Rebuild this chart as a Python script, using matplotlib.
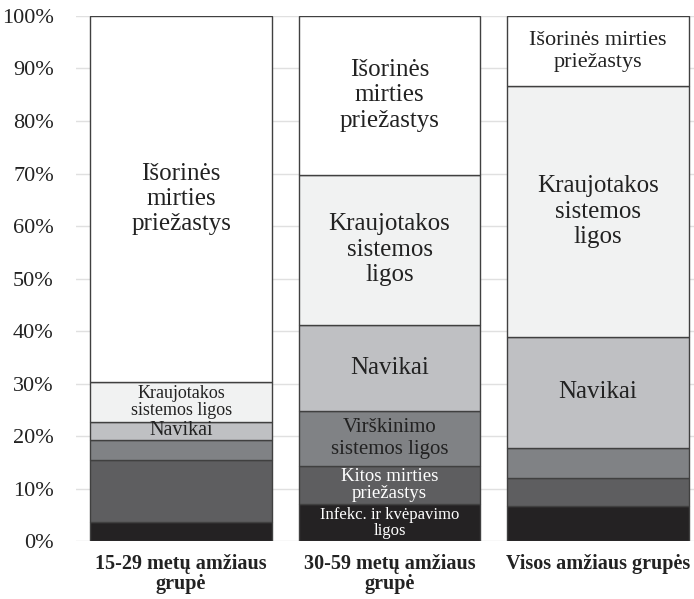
import matplotlib
matplotlib.use("Agg")
import numpy as np
import matplotlib.pyplot as plt
from matplotlib.ticker import PercentFormatter

plt.rcParams['font.family'] = ['Liberation Serif', 'DejaVu Serif']

# Age groups (x categories)
groups = ["15-29 metų amžiaus\ngrupė", "30-59 metų amžiaus\ngrupė", "Visos amžiaus grupės"]

# Shares of causes of death, %, bottom to top
infekc = [3.6, 7.0, 6.7]        # Infekc. ir kvėpavimo ligos
kitos = [11.8, 7.2, 5.3]        # Kitos mirties priežastys
virskinimo = [3.9, 10.5, 5.7]   # Virškinimo sistemos ligos
navikai = [3.4, 16.5, 21.2]     # Navikai
kraujotakos = [7.6, 28.6, 47.7] # Kraujotakos sistemos ligos
isorines = [69.7, 30.2, 13.4]   # Išorinės mirties priežastys

series = [infekc, kitos, virskinimo, navikai, kraujotakos, isorines]
colors = ['#242223', '#5e5e60', '#808285', '#bfc0c3', '#f1f2f2', '#ffffff']

# segment labels: (bar, series index, text, fontsize, colour)
labels = [
    (0, 5, "Išorinės\nmirties\npriežastys", 18, '#222222'),
    (0, 4, "Kraujotakos\nsistemos ligos", 13, '#222222'),
    (0, 3, "Navikai", 14.5, '#222222'),
    (1, 5, "Išorinės\nmirties\npriežastys", 18, '#222222'),
    (1, 4, "Kraujotakos\nsistemos\nligos", 18, '#222222'),
    (1, 3, "Navikai", 18, '#222222'),
    (1, 2, "Virškinimo\nsistemos ligos", 15, '#222222'),
    (1, 1, "Kitos mirties\npriežastys", 13.5, '#ffffff'),
    (1, 0, "Infekc. ir kvėpavimo\nligos", 12, '#ffffff'),
    (2, 5, "Išorinės mirties\npriežastys", 16, '#222222'),
    (2, 4, "Kraujotakos\nsistemos\nligos", 18, '#222222'),
    (2, 3, "Navikai", 18, '#222222'),
]

fig = plt.figure(figsize=(6.94, 5.99), dpi=100)
ax = fig.add_axes([0.1095, 0.0968, 0.8905, 0.8765])

x = np.arange(len(groups))
bottoms = np.zeros(len(groups))
for vals, col in zip(series, colors):
    ax.bar(x, vals, bottom=bottoms, width=0.872, color=col,
           edgecolor='#404040', linewidth=1.0, zorder=2)
    bottoms += np.array(vals)

cum = np.cumsum(np.array(series), axis=0)
for b, s, txt, fs, c in labels:
    lo = cum[s - 1][b] if s > 0 else 0
    mid = lo + series[s][b] / 2
    ls = 1.0 if fs < 14 else 1.2
    ax.text(x[b], mid, txt, ha='center', va='center', fontsize=fs,
            color=c, linespacing=ls, zorder=3)

ax.set_xlim(-0.504, 2.46)
ax.set_ylim(0, 100)
ax.set_yticks(np.arange(0, 101, 10))
ax.yaxis.set_major_formatter(PercentFormatter(decimals=0))
ax.yaxis.grid(True, color='#e0e0e0', linewidth=1, zorder=0)
ax.set_axisbelow(True)
for sp in ax.spines.values():
    sp.set_visible(False)
ax.tick_params(axis='y', length=0, pad=16, labelsize=16, labelcolor='#222222')
ax.tick_params(axis='x', length=0, pad=9)
ax.set_xticks(x)
ax.set_xticklabels(groups, fontsize=14.5, fontweight='bold', color='#222222',
                   linespacing=1.0)
for lbl in ax.get_xticklabels():
    lbl.set_va('top')

fig.savefig("out.png", dpi=100)
